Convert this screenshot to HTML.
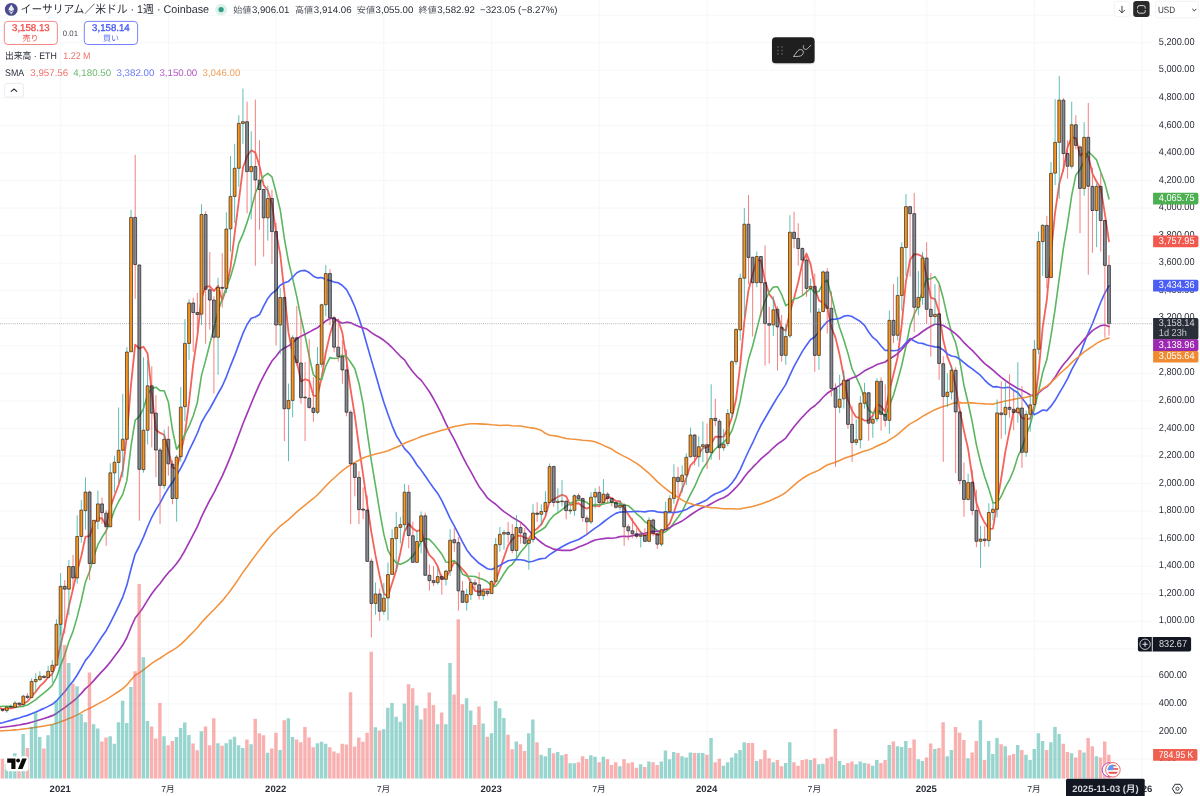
<!DOCTYPE html>
<html lang="ja"><head><meta charset="utf-8"><title>ETHUSD 1W</title>
<style>html,body{margin:0;padding:0;background:#fff;}body{width:1200px;height:796px;overflow:hidden;position:relative;font-family:'Liberation Sans','Noto Sans CJK JP',sans-serif;}svg text{font-family:'Liberation Sans','Noto Sans CJK JP',sans-serif;text-rendering:geometricPrecision;}svg{filter:blur(0.32px);}</style>
</head><body>
<svg width="1208" height="804" viewBox="-4 -4 1208 804" style="position:absolute;left:-4px;top:-4px;font-family:'Liberation Sans','Noto Sans CJK JP',sans-serif">
<rect x="-4" y="-4" width="1208" height="804" fill="#fff"/>
<path d="M-4 759.05H1152.7M-4 731.50H1152.7M-4 703.95H1152.7M-4 676.41H1152.7M-4 648.86H1152.7M-4 621.31H1152.7M-4 593.76H1152.7M-4 566.21H1152.7M-4 538.67H1152.7M-4 511.12H1152.7M-4 483.57H1152.7M-4 456.02H1152.7M-4 428.47H1152.7M-4 400.93H1152.7M-4 373.38H1152.7M-4 345.83H1152.7M-4 318.28H1152.7M-4 290.73H1152.7M-4 263.19H1152.7M-4 235.64H1152.7M-4 208.09H1152.7M-4 180.54H1152.7M-4 152.99H1152.7M-4 125.45H1152.7M-4 97.90H1152.7M-4 70.35H1152.7M-4 42.80H1152.7M-4 15.25H1152.7M60.60 -4V778.7M168.34 -4V778.7M276.08 -4V778.7M383.82 -4V778.7M491.57 -4V778.7M599.31 -4V778.7M707.05 -4V778.7M814.79 -4V778.7M926.68 -4V778.7M1034.42 -4V778.7M1142.16 -4V778.7" stroke="#f2f3f6" stroke-width="0.7" fill="none"/>
<path d="M-1.56 707.10L2.59 709.21L6.73 708.60L10.87 708.25L15.02 707.35L19.16 706.30L23.30 703.46L27.45 701.53L31.59 696.51L35.74 691.78L39.88 686.16L44.02 682.42L48.17 677.19L52.31 673.94L56.46 662.92L60.60 644.94L64.74 627.28L68.89 606.32L73.03 588.84L77.18 571.28L81.32 556.04L85.46 536.62L89.61 536.02L93.75 524.52L97.90 518.01L102.04 518.51L106.18 525.45L110.33 507.32L114.47 495.70L118.61 484.96L122.76 470.27L126.90 435.34L131.05 384.24L135.19 344.68L139.33 348.50L143.48 346.71L147.62 353.47L151.77 392.62L155.91 429.73L160.05 432.94L164.20 434.75L168.34 450.35L172.49 467.42L176.63 468.82L180.77 453.17L184.92 433.99L189.06 401.83L193.20 364.64L197.35 336.14L201.49 297.62L205.64 286.80L209.78 286.21L213.92 291.15L218.07 285.74L222.21 300.50L226.36 288.44L230.50 267.72L234.64 233.93L238.79 201.11L242.93 167.78L247.08 156.29L251.22 150.32L255.36 152.65L259.51 165.87L263.65 185.10L267.80 190.48L271.94 203.48L276.08 232.48L280.23 254.09L284.37 292.27L288.51 332.64L292.66 353.88L296.80 361.41L300.95 381.44L305.09 379.25L309.23 380.65L313.38 395.60L317.52 395.96L321.67 377.37L325.81 352.52L329.95 334.59L334.10 321.53L338.24 319.92L342.39 332.96L346.53 360.70L350.67 389.88L354.82 415.94L358.96 446.58L363.10 474.61L367.25 504.43L371.39 532.38L375.54 555.69L379.68 576.02L383.82 593.64L387.97 596.28L392.11 583.31L396.26 569.99L400.40 552.67L404.54 531.48L408.69 523.65L412.83 528.41L416.98 531.23L421.12 529.46L425.26 546.07L429.41 555.11L433.55 559.16L437.69 566.18L441.84 578.87L445.98 578.03L450.13 569.96L454.27 561.99L458.41 564.84L462.56 569.45L466.70 574.15L470.85 582.60L474.99 590.91L479.13 591.86L483.28 589.65L487.42 589.45L491.57 589.25L495.71 581.31L499.85 569.07L504.00 557.33L508.14 545.49L512.29 539.28L516.43 535.86L520.57 535.56L524.72 537.71L528.86 538.85L533.00 531.39L537.15 528.74L541.29 524.47L545.44 516.30L549.58 501.60L553.72 499.47L557.87 496.85L562.01 494.76L566.16 496.39L570.30 505.10L574.44 503.75L578.59 503.25L582.73 506.54L586.88 508.79L591.02 506.22L595.16 505.56L599.31 506.30L603.45 501.64L607.59 496.95L611.74 497.96L615.88 500.93L620.03 501.50L624.17 508.01L628.31 514.48L632.46 520.79L636.60 526.60L640.75 532.57L644.89 535.49L649.03 533.38L653.18 533.28L657.32 534.84L661.47 533.78L665.61 527.85L669.75 523.53L673.90 512.34L678.04 499.82L682.19 488.89L686.33 478.01L690.47 465.28L694.62 461.06L698.76 454.09L702.90 448.00L707.05 447.04L711.19 443.76L715.34 436.62L719.48 436.82L723.62 436.72L727.77 428.94L731.91 417.56L736.06 399.32L740.20 365.44L744.34 321.44L748.49 290.20L752.63 274.40L756.78 259.83L760.92 260.69L765.06 280.56L769.21 294.12L773.35 299.55L777.49 313.62L781.64 328.15L785.78 330.74L789.93 312.16L794.07 297.90L798.21 282.23L802.36 263.18L806.50 253.55L810.65 264.37L814.79 287.75L818.93 300.46L823.08 302.83L827.22 306.81L831.37 327.25L835.51 337.63L839.65 355.06L843.80 376.73L847.94 399.95L852.08 410.73L856.23 417.23L860.37 418.03L864.52 420.53L868.66 420.29L872.80 415.67L876.95 403.98L881.09 406.19L885.24 411.70L889.38 391.14L893.52 374.32L897.67 357.15L901.81 323.79L905.96 281.05L910.10 259.71L914.24 254.11L918.39 254.51L922.53 256.61L926.68 277.15L930.82 297.72L934.96 299.13L939.11 312.32L943.25 340.02L947.39 356.60L951.54 367.35L955.68 386.86L959.83 410.30L963.97 430.87L968.11 448.95L972.26 476.99L976.40 502.87L980.55 514.57L984.69 522.81L988.83 528.78L992.98 528.54L997.12 502.86L1001.27 477.97L1005.41 451.31L1009.55 430.67L1013.70 411.35L1017.84 410.38L1021.98 417.92L1026.13 419.33L1030.27 418.44L1034.42 405.80L1038.56 372.49L1042.70 327.11L1046.85 299.73L1050.99 253.42L1055.14 212.01L1059.28 183.73L1063.42 169.36L1067.57 147.13L1071.71 137.42L1075.86 138.02L1080.00 155.67L1084.14 152.43L1088.29 156.41L1092.43 173.56L1096.58 181.76L1100.72 188.19L1104.86 213.80L1109.01 241.28" stroke="#f5625a" stroke-width="1.8" fill="none" stroke-linejoin="round" stroke-linecap="round" opacity="1"/>
<path d="M-1.56 706.79L2.59 706.24L6.73 706.20L10.87 706.35L15.02 706.75L19.16 706.70L23.30 706.34L27.45 705.07L31.59 702.38L35.74 699.56L39.88 696.23L44.02 692.94L48.17 689.36L52.31 685.23L56.46 677.35L60.60 665.55L64.74 654.85L68.89 641.75L73.03 631.39L77.18 617.10L81.32 600.49L85.46 581.95L89.61 571.17L93.75 556.68L97.90 544.64L102.04 537.28L106.18 531.04L110.33 521.67L114.47 510.11L118.61 501.49L122.76 494.39L126.90 480.39L131.05 445.78L135.19 420.19L139.33 416.73L143.48 408.49L147.62 394.40L151.77 388.43L155.91 387.21L160.05 390.72L164.20 390.73L168.34 401.91L172.49 430.02L176.63 449.28L180.77 443.06L184.92 434.37L189.06 426.09L193.20 416.03L197.35 402.48L201.49 375.39L205.64 360.40L209.78 344.02L213.92 327.89L218.07 310.94L222.21 299.06L226.36 287.62L230.50 276.96L234.64 262.54L238.79 243.42L242.93 234.14L247.08 222.37L251.22 209.02L255.36 193.29L259.51 183.49L263.65 176.44L267.80 173.39L271.94 176.90L276.08 192.57L280.23 209.98L284.37 238.68L288.51 261.56L292.66 278.68L296.80 296.94L300.95 317.76L305.09 335.76L309.23 356.65L313.38 374.74L317.52 378.68L321.67 379.40L325.81 365.88L329.95 357.62L334.10 358.56L338.24 357.94L342.39 355.17L346.53 356.61L350.67 362.24L354.82 368.73L358.96 383.25L363.10 403.79L367.25 432.57L371.39 461.13L375.54 485.81L379.68 511.30L383.82 534.13L387.97 550.36L392.11 557.84L396.26 562.84L400.40 564.35L404.54 562.56L408.69 559.96L412.83 555.86L416.98 550.61L421.12 541.07L425.26 538.77L429.41 539.38L433.55 543.78L437.69 548.70L441.84 554.17L445.98 562.05L450.13 562.53L454.27 560.57L458.41 565.51L462.56 574.16L466.70 576.09L470.85 576.28L474.99 576.45L479.13 578.35L483.28 579.55L487.42 581.80L491.57 585.92L495.71 586.11L499.85 580.46L504.00 573.49L508.14 567.47L512.29 564.26L516.43 558.58L520.57 552.31L524.72 547.52L528.86 542.17L533.00 535.33L537.15 532.30L541.29 530.02L545.44 527.01L549.58 520.23L553.72 515.43L557.87 512.80L562.01 509.62L566.16 506.35L570.30 503.35L574.44 501.61L578.59 500.05L582.73 500.65L586.88 502.59L591.02 505.66L595.16 504.65L599.31 504.77L603.45 504.09L607.59 502.87L611.74 502.09L615.88 503.25L620.03 503.90L624.17 504.82L628.31 505.72L632.46 509.38L636.60 513.77L640.75 517.04L644.89 521.75L649.03 523.93L653.18 527.04L657.32 530.72L661.47 533.18L665.61 531.67L669.75 528.45L673.90 522.81L678.04 517.33L682.19 511.34L686.33 502.93L690.47 494.40L694.62 486.70L698.76 476.95L702.90 468.45L707.05 462.52L711.19 454.52L715.34 448.84L719.48 445.46L723.62 442.36L727.77 437.99L731.91 430.66L736.06 417.97L740.20 401.13L744.34 379.08L748.49 359.57L752.63 345.98L756.78 329.57L760.92 313.07L765.06 301.00L769.21 292.16L773.35 286.97L777.49 286.72L781.64 294.42L785.78 305.65L789.93 303.14L794.07 298.72L798.21 297.92L802.36 295.66L806.50 292.15L810.65 288.27L814.79 292.82L818.93 291.35L823.08 283.01L827.22 280.18L831.37 295.81L835.51 312.69L839.65 327.76L843.80 339.78L847.94 353.38L852.08 368.99L856.23 377.43L860.37 386.54L864.52 398.63L868.66 410.12L872.80 413.20L876.95 410.60L881.09 412.11L885.24 416.12L889.38 405.71L893.52 394.99L897.67 380.56L901.81 364.99L905.96 346.37L910.10 325.42L914.24 314.22L918.39 305.83L922.53 290.20L926.68 279.10L930.82 278.71L934.96 276.62L939.11 283.42L943.25 298.32L947.39 316.87L951.54 332.53L955.68 342.99L959.83 361.31L963.97 385.45L968.11 402.78L972.26 422.17L976.40 444.87L980.55 462.44L984.69 476.84L988.83 488.87L992.98 502.77L997.12 502.87L1001.27 496.27L1005.41 487.06L1009.55 479.73L1013.70 469.94L1017.84 456.62L1021.98 447.94L1026.13 435.32L1030.27 424.56L1034.42 408.57L1038.56 391.44L1042.70 372.51L1046.85 359.53L1050.99 335.93L1055.14 308.90L1059.28 278.11L1063.42 248.23L1067.57 223.43L1071.71 195.42L1075.86 175.02L1080.00 169.70L1084.14 160.89L1088.29 151.77L1092.43 155.49L1096.58 159.89L1100.72 171.93L1104.86 183.12L1109.01 198.84" stroke="#5cb660" stroke-width="1.6" fill="none" stroke-linejoin="round" stroke-linecap="round" opacity="1"/>
<path d="M-1.56 723.39L2.59 722.70L6.73 721.55L10.87 720.38L15.02 719.10L19.16 717.94L23.30 716.58L27.45 715.37L31.59 713.69L35.74 712.01L39.88 710.13L44.02 708.37L48.17 706.38L52.31 704.32L56.46 700.97L60.60 696.28L64.74 691.68L68.89 686.30L73.03 681.32L77.18 675.03L81.32 667.84L85.46 660.38L89.61 655.58L93.75 649.42L97.90 642.92L102.04 636.51L106.18 630.74L110.33 622.83L114.47 614.63L118.61 606.05L122.76 597.04L126.90 585.09L131.05 568.77L135.19 554.03L139.33 546.24L143.48 537.11L147.62 526.76L151.77 517.28L155.91 509.57L160.05 503.10L164.20 495.21L168.34 488.08L172.49 482.32L176.63 475.38L180.77 468.14L184.92 460.05L189.06 450.51L193.20 442.04L197.35 433.27L201.49 422.53L205.64 415.17L209.78 408.77L213.92 401.23L218.07 393.47L222.21 386.28L226.36 376.83L230.50 365.82L234.64 355.67L238.79 344.37L242.93 333.42L247.08 324.50L251.22 318.32L255.36 317.07L259.51 314.57L263.65 306.18L267.80 298.46L271.94 293.32L276.08 290.38L280.23 285.29L284.37 282.74L288.51 281.44L292.66 277.24L296.80 272.71L300.95 270.73L305.09 270.42L309.23 272.55L313.38 276.20L317.52 277.93L321.67 277.60L325.81 279.57L329.95 280.52L334.10 282.09L338.24 282.73L342.39 285.47L346.53 289.60L350.67 297.42L354.82 306.79L358.96 318.17L363.10 331.06L367.25 345.71L371.39 360.11L375.54 374.35L379.68 388.73L383.82 402.35L387.97 414.24L392.11 425.58L396.26 435.44L400.40 442.09L404.54 448.58L408.69 452.81L412.83 458.20L416.98 464.99L421.12 470.10L425.26 476.02L429.41 482.12L433.55 487.95L437.69 493.43L441.84 500.59L445.98 509.47L450.13 518.36L454.27 525.85L458.41 533.98L462.56 542.18L466.70 549.66L470.85 555.34L474.99 559.36L479.13 563.30L483.28 566.02L487.42 568.80L491.57 569.47L495.71 567.51L499.85 565.53L504.00 562.90L508.14 560.78L512.29 559.97L516.43 559.61L520.57 559.79L524.72 560.41L528.86 562.01L533.00 561.26L537.15 559.66L541.29 558.66L545.44 558.22L549.58 554.59L553.72 551.99L557.87 549.28L562.01 546.76L566.16 544.47L570.30 542.44L574.44 540.95L578.59 539.49L582.73 537.04L586.88 534.36L591.02 531.12L595.16 528.11L599.31 525.39L603.45 522.01L607.59 518.91L611.74 515.87L615.88 513.40L620.03 512.08L624.17 511.83L628.31 511.77L632.46 511.75L636.60 511.28L640.75 511.54L644.89 511.82L649.03 511.05L653.18 510.82L657.32 511.86L661.47 512.38L665.61 512.38L669.75 512.25L673.90 512.61L678.04 511.92L682.19 511.05L686.33 509.59L690.47 507.07L694.62 505.27L698.76 503.64L702.90 501.84L707.05 499.67L711.19 496.23L715.34 493.68L719.48 492.19L723.62 490.24L727.77 487.56L731.91 483.00L736.06 477.23L740.20 469.60L744.34 460.23L748.49 451.25L752.63 442.98L756.78 433.74L760.92 425.28L765.06 418.23L769.21 411.03L773.35 404.01L777.49 397.13L781.64 390.84L785.78 384.39L789.93 375.08L794.07 366.41L798.21 358.78L802.36 351.40L806.50 345.17L810.65 339.47L814.79 336.82L818.93 332.01L823.08 326.19L827.22 321.64L831.37 319.51L835.51 319.13L839.65 318.42L843.80 316.17L847.94 315.51L852.08 316.47L856.23 319.08L860.37 321.54L864.52 325.35L868.66 331.98L872.80 337.38L876.95 340.67L881.09 345.93L885.24 350.52L889.38 350.41L893.52 350.75L897.67 350.27L901.81 347.63L905.96 342.67L910.10 338.57L914.24 341.08L918.39 343.04L922.53 343.36L926.68 345.00L930.82 345.94L934.96 346.87L939.11 347.14L943.25 349.95L947.39 353.96L951.54 356.03L955.68 356.80L959.83 359.25L963.97 362.59L968.11 366.00L972.26 368.87L976.40 372.16L980.55 375.47L984.69 380.05L988.83 384.04L992.98 386.91L997.12 386.69L1001.27 387.80L1005.41 387.57L1009.55 387.20L1013.70 390.28L1017.84 392.70L1021.98 397.93L1026.13 403.49L1030.27 410.10L1034.42 414.62L1038.56 412.43L1042.70 410.03L1046.85 410.68L1050.99 406.15L1055.14 400.34L1059.28 393.20L1063.42 386.20L1067.57 378.53L1071.71 369.61L1075.86 362.12L1080.00 354.67L1084.14 343.23L1088.29 332.79L1092.43 323.72L1096.58 312.91L1100.72 302.22L1104.86 293.10L1109.01 285.86" stroke="#4c63fa" stroke-width="1.65" fill="none" stroke-linejoin="round" stroke-linecap="round" opacity="1"/>
<path d="M-1.56 727.76L2.59 727.28L6.73 726.75L10.87 726.21L15.02 725.62L19.16 725.04L23.30 724.17L27.45 723.36L31.59 722.23L35.74 721.04L39.88 719.75L44.02 718.49L48.17 717.12L52.31 715.65L56.46 713.42L60.60 710.43L64.74 707.56L68.89 704.34L73.03 701.44L77.18 697.75L81.32 693.38L85.46 688.60L89.61 685.04L93.75 680.61L97.90 675.86L102.04 671.33L106.18 667.12L110.33 661.90L114.47 656.52L118.61 650.93L122.76 645.05L126.90 637.49L131.05 627.22L135.19 617.97L139.33 612.85L143.48 606.92L147.62 600.09L151.77 593.80L155.91 588.26L160.05 583.46L164.20 577.73L168.34 572.69L172.49 568.51L176.63 563.55L180.77 557.71L184.92 550.48L189.06 542.54L193.20 534.59L197.35 526.72L201.49 516.85L205.64 508.45L209.78 500.24L213.92 492.84L218.07 484.46L222.21 476.17L226.36 466.66L230.50 456.67L234.64 446.08L238.79 434.92L242.93 423.77L247.08 413.68L251.22 403.46L255.36 393.63L259.51 384.12L263.65 375.99L267.80 368.23L271.94 361.08L276.08 356.25L280.23 350.64L284.37 348.09L288.51 345.89L292.66 342.80L296.80 338.79L300.95 336.33L305.09 334.21L309.23 332.10L313.38 329.82L317.52 327.65L321.67 324.50L325.81 320.96L329.95 318.54L334.10 318.44L338.24 321.22L342.39 323.33L346.53 322.18L350.67 322.85L354.82 324.69L358.96 326.61L363.10 327.82L367.25 329.33L371.39 332.62L375.54 335.22L379.68 337.47L383.82 340.30L387.97 343.65L392.11 347.55L396.26 352.04L400.40 356.28L404.54 359.83L408.69 366.25L412.83 371.71L416.98 376.54L421.12 380.11L425.26 385.86L429.41 391.71L433.55 398.78L437.69 406.38L441.84 414.60L445.98 423.56L450.13 431.93L454.27 439.35L458.41 447.84L462.56 456.28L466.70 464.38L470.85 471.68L474.99 479.39L479.13 486.67L483.28 492.00L487.42 497.92L491.57 501.37L495.71 504.26L499.85 508.19L504.00 511.59L508.14 514.32L512.29 517.38L516.43 519.78L520.57 522.19L524.72 525.77L528.86 530.47L533.00 535.26L537.15 539.19L541.29 542.48L545.44 545.40L549.58 547.34L553.72 549.14L557.87 549.89L562.01 550.36L566.16 550.38L570.30 550.38L574.44 549.07L578.59 546.98L582.73 545.45L586.88 543.66L591.02 541.64L595.16 540.00L599.31 539.28L603.45 538.62L607.59 538.09L611.74 538.29L615.88 537.73L620.03 536.59L624.17 536.29L628.31 536.59L632.46 535.76L636.60 534.88L640.75 533.93L644.89 533.22L649.03 532.04L653.18 531.29L657.32 531.37L661.47 531.11L665.61 529.52L669.75 527.45L673.90 525.11L678.04 523.09L682.19 520.91L686.33 518.14L690.47 515.01L694.62 512.27L698.76 509.57L702.90 507.57L707.05 505.94L711.19 503.66L715.34 501.38L719.48 499.33L723.62 497.66L727.77 495.28L731.91 491.64L736.06 487.43L740.20 482.73L744.34 476.93L748.49 471.85L752.63 467.45L756.78 463.25L760.92 458.86L765.06 455.30L769.21 451.78L773.35 447.77L777.49 444.10L781.64 441.30L785.78 438.05L789.93 432.35L794.07 426.68L798.21 421.70L802.36 417.06L806.50 412.78L810.65 408.62L814.79 405.76L818.93 401.95L823.08 397.25L827.22 393.31L831.37 390.54L835.51 388.07L839.65 385.38L843.80 382.26L847.94 380.05L852.08 378.07L856.23 376.46L860.37 373.86L864.52 370.83L868.66 368.70L872.80 366.85L876.95 364.50L881.09 363.24L885.24 362.02L889.38 358.92L893.52 356.48L897.67 353.69L901.81 349.51L905.96 344.71L910.10 340.09L914.24 337.19L918.39 334.76L922.53 331.51L926.68 328.74L930.82 326.19L934.96 324.21L939.11 324.24L943.25 325.58L947.39 327.86L951.54 330.78L955.68 333.87L959.83 337.83L963.97 342.69L968.11 346.69L972.26 350.43L976.40 354.75L980.55 359.33L984.69 363.61L988.83 366.75L992.98 370.21L997.12 373.82L1001.27 377.34L1005.41 380.52L1009.55 383.50L1013.70 385.98L1017.84 388.42L1021.98 390.36L1026.13 392.40L1030.27 395.06L1034.42 395.88L1038.56 392.94L1042.70 389.31L1046.85 386.87L1050.99 382.73L1055.14 377.09L1059.28 370.24L1063.42 364.52L1067.57 359.78L1071.71 354.42L1075.86 348.86L1080.00 344.24L1084.14 339.36L1088.29 334.80L1092.43 330.60L1096.58 327.92L1100.72 325.63L1104.86 325.03L1109.01 326.55" stroke="#a238b6" stroke-width="1.65" fill="none" stroke-linejoin="round" stroke-linecap="round" opacity="1"/>
<path d="M-1.56 730.99L2.59 730.78L6.73 730.56L10.87 730.28L15.02 729.88L19.16 729.50L23.30 729.00L27.45 728.51L31.59 727.92L35.74 727.31L39.88 726.70L44.02 726.05L48.17 725.34L52.31 724.56L56.46 723.36L60.60 721.80L64.74 720.29L68.89 718.55L73.03 716.92L77.18 714.89L81.32 712.59L85.46 710.12L89.61 708.36L93.75 706.21L97.90 703.90L102.04 701.67L106.18 699.57L110.33 696.93L114.47 694.22L118.61 691.50L122.76 688.65L126.90 684.95L131.05 679.86L135.19 675.28L139.33 672.81L143.48 669.93L147.62 666.62L151.77 663.47L155.91 660.70L160.05 658.25L164.20 655.37L168.34 652.71L172.49 650.38L176.63 647.62L180.77 644.34L184.92 640.43L189.06 636.14L193.20 631.97L197.35 627.76L201.49 622.55L205.64 618.10L209.78 613.76L213.92 609.80L218.07 605.34L222.21 600.89L226.36 595.85L230.50 590.42L234.64 584.72L238.79 578.58L242.93 572.40L247.08 566.71L251.22 560.98L255.36 555.37L259.51 549.88L263.65 544.70L267.80 539.33L271.94 534.32L276.08 530.29L280.23 526.04L284.37 522.92L288.51 519.63L292.66 515.70L296.80 511.91L300.95 508.47L305.09 505.03L309.23 501.72L313.38 498.47L317.52 494.78L321.67 490.51L325.81 485.95L329.95 481.79L334.10 477.96L338.24 474.22L342.39 470.65L346.53 467.52L350.67 464.89L354.82 462.39L358.96 460.21L363.10 458.04L367.25 456.40L371.39 455.17L375.54 453.95L379.68 452.99L383.82 451.92L387.97 450.68L392.11 449.01L396.26 447.29L400.40 445.43L404.54 443.27L408.69 441.55L412.83 440.08L416.98 438.39L421.12 436.48L425.26 435.16L429.41 433.94L433.55 432.72L437.69 431.53L441.84 430.34L445.98 429.24L450.13 427.85L454.27 426.51L458.41 425.65L462.56 424.96L466.70 424.25L470.85 423.83L474.99 423.81L479.13 423.88L483.28 424.12L487.42 424.28L491.57 424.73L495.71 425.07L499.85 425.50L504.00 425.19L508.14 425.33L512.29 425.79L516.43 425.94L520.57 426.00L524.72 426.71L528.86 427.49L533.00 428.11L537.15 428.87L541.29 430.46L545.44 433.31L549.58 435.33L553.72 435.66L557.87 436.37L562.01 437.53L566.16 438.50L570.30 439.10L574.44 439.20L578.59 439.80L582.73 440.33L586.88 440.57L591.02 440.97L595.16 441.82L599.31 443.41L603.45 445.33L607.59 447.18L611.74 449.06L615.88 451.99L620.03 454.15L624.17 456.42L628.31 458.35L632.46 460.81L636.60 463.29L640.75 466.35L644.89 469.80L649.03 473.32L653.18 477.42L657.32 481.65L661.47 485.23L665.61 488.68L669.75 491.87L673.90 494.75L678.04 497.38L682.19 500.15L686.33 502.41L690.47 503.51L694.62 505.09L698.76 505.47L702.90 505.92L707.05 507.06L711.19 507.62L715.34 507.85L719.48 508.35L723.62 508.72L727.77 508.73L731.91 508.70L736.06 508.95L740.20 509.00L744.34 508.06L748.49 507.17L752.63 506.43L756.78 505.29L760.92 504.00L765.06 502.60L769.21 501.07L773.35 499.08L777.49 497.24L781.64 495.18L785.78 492.52L789.93 488.90L794.07 485.17L798.21 481.67L802.36 478.53L806.50 476.03L810.65 473.62L814.79 471.92L818.93 470.12L823.08 467.49L827.22 464.95L831.37 463.42L835.51 462.33L839.65 460.57L843.80 458.57L847.94 456.99L852.08 455.65L856.23 454.25L860.37 452.57L864.52 451.10L868.66 449.90L872.80 448.19L876.95 445.98L881.09 444.17L885.24 442.55L889.38 439.91L893.52 437.31L897.67 434.35L901.81 430.89L905.96 427.14L910.10 423.83L914.24 421.56L918.39 419.21L922.53 416.45L926.68 414.04L930.82 411.93L934.96 409.74L939.11 407.94L943.25 406.51L947.39 405.30L951.54 403.86L955.68 402.86L959.83 402.64L963.97 402.97L968.11 402.77L972.26 402.86L976.40 403.27L980.55 403.55L984.69 403.86L988.83 404.02L992.98 404.13L997.12 403.08L1001.27 402.01L1005.41 401.11L1009.55 400.28L1013.70 399.38L1017.84 398.52L1021.98 398.06L1026.13 397.18L1030.27 396.15L1034.42 394.60L1038.56 391.74L1042.70 388.69L1046.85 386.13L1050.99 382.49L1055.14 378.57L1059.28 374.16L1063.42 370.49L1067.57 366.82L1071.71 362.62L1075.86 358.78L1080.00 355.55L1084.14 351.93L1088.29 349.02L1092.43 346.31L1096.58 343.42L1100.72 341.06L1104.86 339.36L1109.01 338.03" stroke="#f2923c" stroke-width="1.55" fill="none" stroke-linejoin="round" stroke-linecap="round" opacity="1"/>
<path d="M4.85 764.06h3.45V778.7h-3.45zM9.00 770.84h3.45V778.7h-3.45zM13.14 753.32h3.45V778.7h-3.45zM21.43 734.10h3.45V778.7h-3.45zM29.72 726.75h3.45V778.7h-3.45zM33.86 712.05h3.45V778.7h-3.45zM38.01 736.92h3.45V778.7h-3.45zM46.29 735.23h3.45V778.7h-3.45zM50.44 724.82h3.45V778.7h-3.45zM54.58 700.74h3.45V778.7h-3.45zM58.73 615.00h3.45V778.7h-3.45zM67.01 662.96h3.45V778.7h-3.45zM75.30 686.28h3.45V778.7h-3.45zM79.44 713.97h3.45V778.7h-3.45zM83.59 722.22h3.45V778.7h-3.45zM91.88 724.15h3.45V778.7h-3.45zM96.02 728.44h3.45V778.7h-3.45zM108.45 736.13h3.45V778.7h-3.45zM112.60 743.71h3.45V778.7h-3.45zM116.74 722.22h3.45V778.7h-3.45zM120.88 700.74h3.45V778.7h-3.45zM125.03 723.02h3.45V778.7h-3.45zM129.17 687.09h3.45V778.7h-3.45zM141.60 657.14h3.45V778.7h-3.45zM145.75 721.09h3.45V778.7h-3.45zM162.32 736.13h3.45V778.7h-3.45zM174.75 736.92h3.45V778.7h-3.45zM178.90 727.88h3.45V778.7h-3.45zM183.04 722.45h3.45V778.7h-3.45zM187.19 734.89h3.45V778.7h-3.45zM199.62 731.27h3.45V778.7h-3.45zM216.19 743.14h3.45V778.7h-3.45zM224.48 743.14h3.45V778.7h-3.45zM228.62 739.52h3.45V778.7h-3.45zM232.77 736.70h3.45V778.7h-3.45zM236.91 745.18h3.45V778.7h-3.45zM241.06 748.00h3.45V778.7h-3.45zM249.34 744.27h3.45V778.7h-3.45zM265.92 752.75h3.45V778.7h-3.45zM278.35 749.92h3.45V778.7h-3.45zM286.64 718.27h3.45V778.7h-3.45zM290.78 736.92h3.45V778.7h-3.45zM315.65 743.14h3.45V778.7h-3.45zM319.79 741.67h3.45V778.7h-3.45zM323.93 743.71h3.45V778.7h-3.45zM373.66 727.31h3.45V778.7h-3.45zM381.95 729.23h3.45V778.7h-3.45zM386.09 707.86h3.45V778.7h-3.45zM390.24 703.00h3.45V778.7h-3.45zM394.38 716.80h3.45V778.7h-3.45zM398.52 721.66h3.45V778.7h-3.45zM402.67 703.57h3.45V778.7h-3.45zM415.10 705.60h3.45V778.7h-3.45zM419.24 719.40h3.45V778.7h-3.45zM435.82 724.15h3.45V778.7h-3.45zM444.11 724.15h3.45V778.7h-3.45zM448.25 662.91h3.45V778.7h-3.45zM464.83 698.14h3.45V778.7h-3.45zM468.97 710.58h3.45V778.7h-3.45zM481.40 723.58h3.45V778.7h-3.45zM489.69 733.19h3.45V778.7h-3.45zM493.83 700.97h3.45V778.7h-3.45zM497.98 708.32h3.45V778.7h-3.45zM502.12 718.04h3.45V778.7h-3.45zM514.55 741.44h3.45V778.7h-3.45zM526.99 733.19h3.45V778.7h-3.45zM531.13 719.40h3.45V778.7h-3.45zM539.42 754.67h3.45V778.7h-3.45zM543.56 756.14h3.45V778.7h-3.45zM547.71 747.89h3.45V778.7h-3.45zM555.99 751.96h3.45V778.7h-3.45zM560.14 755.35h3.45V778.7h-3.45zM568.42 763.15h3.45V778.7h-3.45zM572.57 763.15h3.45V778.7h-3.45zM589.14 755.35h3.45V778.7h-3.45zM593.29 756.71h3.45V778.7h-3.45zM601.58 756.71h3.45V778.7h-3.45zM618.15 766.32h3.45V778.7h-3.45zM638.87 764.28h3.45V778.7h-3.45zM647.16 761.46h3.45V778.7h-3.45zM659.59 761.46h3.45V778.7h-3.45zM663.73 750.49h3.45V778.7h-3.45zM667.88 759.31h3.45V778.7h-3.45zM672.02 751.96h3.45V778.7h-3.45zM680.31 756.14h3.45V778.7h-3.45zM684.45 757.50h3.45V778.7h-3.45zM688.60 752.41h3.45V778.7h-3.45zM696.89 753.09h3.45V778.7h-3.45zM701.03 753.09h3.45V778.7h-3.45zM709.32 738.05h3.45V778.7h-3.45zM721.75 765.75h3.45V778.7h-3.45zM725.89 762.14h3.45V778.7h-3.45zM730.04 757.50h3.45V778.7h-3.45zM734.18 753.32h3.45V778.7h-3.45zM738.32 749.92h3.45V778.7h-3.45zM742.47 742.24h3.45V778.7h-3.45zM754.90 761.01h3.45V778.7h-3.45zM771.48 762.14h3.45V778.7h-3.45zM783.91 762.93h3.45V778.7h-3.45zM788.05 742.24h3.45V778.7h-3.45zM808.77 760.10h3.45V778.7h-3.45zM817.06 764.28h3.45V778.7h-3.45zM821.20 763.72h3.45V778.7h-3.45zM837.78 761.01h3.45V778.7h-3.45zM841.92 764.96h3.45V778.7h-3.45zM854.35 764.28h3.45V778.7h-3.45zM858.50 761.46h3.45V778.7h-3.45zM862.64 762.93h3.45V778.7h-3.45zM870.93 765.75h3.45V778.7h-3.45zM875.07 760.10h3.45V778.7h-3.45zM887.51 745.06h3.45V778.7h-3.45zM895.79 746.19h3.45V778.7h-3.45zM899.94 747.10h3.45V778.7h-3.45zM904.08 740.88h3.45V778.7h-3.45zM916.51 759.31h3.45V778.7h-3.45zM920.66 761.01h3.45V778.7h-3.45zM933.09 749.02h3.45V778.7h-3.45zM945.52 756.14h3.45V778.7h-3.45zM949.66 749.92h3.45V778.7h-3.45zM966.24 758.18h3.45V778.7h-3.45zM978.67 720.19h3.45V778.7h-3.45zM986.96 740.88h3.45V778.7h-3.45zM991.10 754.11h3.45V778.7h-3.45zM995.25 738.05h3.45V778.7h-3.45zM1003.53 746.19h3.45V778.7h-3.45zM1015.97 745.06h3.45V778.7h-3.45zM1024.25 754.67h3.45V778.7h-3.45zM1028.40 760.10h3.45V778.7h-3.45zM1032.54 749.02h3.45V778.7h-3.45zM1036.69 733.19h3.45V778.7h-3.45zM1040.83 741.11h3.45V778.7h-3.45zM1049.12 742.24h3.45V778.7h-3.45zM1053.26 727.09h3.45V778.7h-3.45zM1057.40 734.10h3.45V778.7h-3.45zM1069.84 753.32h3.45V778.7h-3.45zM1082.27 752.53h3.45V778.7h-3.45zM1094.70 756.14h3.45V778.7h-3.45z" fill="#26a69a" fill-opacity="0.47"/>
<path d="M0.71 758.74h3.45V778.7h-3.45zM17.29 756.71h3.45V778.7h-3.45zM25.57 747.89h3.45V778.7h-3.45zM42.15 748.45h3.45V778.7h-3.45zM62.87 645.08h3.45V778.7h-3.45zM71.16 683.77h3.45V778.7h-3.45zM87.73 672.41h3.45V778.7h-3.45zM100.16 741.44h3.45V778.7h-3.45zM104.31 737.49h3.45V778.7h-3.45zM133.32 671.21h3.45V778.7h-3.45zM137.46 583.90h3.45V778.7h-3.45zM149.89 726.41h3.45V778.7h-3.45zM154.03 738.39h3.45V778.7h-3.45zM158.18 703.00h3.45V778.7h-3.45zM166.47 745.18h3.45V778.7h-3.45zM170.61 741.11h3.45V778.7h-3.45zM191.33 743.48h3.45V778.7h-3.45zM195.47 750.15h3.45V778.7h-3.45zM203.76 726.41h3.45V778.7h-3.45zM207.91 745.18h3.45V778.7h-3.45zM212.05 718.27h3.45V778.7h-3.45zM220.34 745.74h3.45V778.7h-3.45zM245.20 739.52h3.45V778.7h-3.45zM253.49 718.83h3.45V778.7h-3.45zM257.63 733.19h3.45V778.7h-3.45zM261.78 735.23h3.45V778.7h-3.45zM270.06 748.57h3.45V778.7h-3.45zM274.21 732.63h3.45V778.7h-3.45zM282.50 720.30h3.45V778.7h-3.45zM294.93 739.52h3.45V778.7h-3.45zM299.07 742.24h3.45V778.7h-3.45zM303.22 727.09h3.45V778.7h-3.45zM307.36 737.49h3.45V778.7h-3.45zM311.50 747.32h3.45V778.7h-3.45zM328.08 747.32h3.45V778.7h-3.45zM332.22 751.39h3.45V778.7h-3.45zM336.37 753.32h3.45V778.7h-3.45zM340.51 743.71h3.45V778.7h-3.45zM344.65 744.50h3.45V778.7h-3.45zM348.80 692.26h3.45V778.7h-3.45zM352.94 746.53h3.45V778.7h-3.45zM357.09 737.49h3.45V778.7h-3.45zM361.23 741.67h3.45V778.7h-3.45zM365.37 732.74h3.45V778.7h-3.45zM369.52 651.83h3.45V778.7h-3.45zM377.81 730.48h3.45V778.7h-3.45zM406.81 684.28h3.45V778.7h-3.45zM410.96 688.35h3.45V778.7h-3.45zM423.39 708.32h3.45V778.7h-3.45zM427.53 692.49h3.45V778.7h-3.45zM431.68 705.04h3.45V778.7h-3.45zM439.96 712.61h3.45V778.7h-3.45zM452.40 694.52h3.45V778.7h-3.45zM456.54 619.27h3.45V778.7h-3.45zM460.68 704.36h3.45V778.7h-3.45zM473.12 725.05h3.45V778.7h-3.45zM477.26 706.39h3.45V778.7h-3.45zM485.55 736.70h3.45V778.7h-3.45zM506.27 734.66h3.45V778.7h-3.45zM510.41 749.13h3.45V778.7h-3.45zM518.70 744.27h3.45V778.7h-3.45zM522.84 751.06h3.45V778.7h-3.45zM535.27 742.24h3.45V778.7h-3.45zM551.85 753.32h3.45V778.7h-3.45zM564.28 754.11h3.45V778.7h-3.45zM576.71 762.14h3.45V778.7h-3.45zM580.86 756.14h3.45V778.7h-3.45zM585.00 758.97h3.45V778.7h-3.45zM597.43 762.14h3.45V778.7h-3.45zM605.72 759.31h3.45V778.7h-3.45zM609.86 764.96h3.45V778.7h-3.45zM614.01 762.14h3.45V778.7h-3.45zM622.30 759.31h3.45V778.7h-3.45zM626.44 763.15h3.45V778.7h-3.45zM630.58 762.14h3.45V778.7h-3.45zM634.73 767.79h3.45V778.7h-3.45zM643.01 767.11h3.45V778.7h-3.45zM651.30 762.14h3.45V778.7h-3.45zM655.45 764.96h3.45V778.7h-3.45zM676.17 753.09h3.45V778.7h-3.45zM692.74 753.09h3.45V778.7h-3.45zM705.17 754.67h3.45V778.7h-3.45zM713.46 762.14h3.45V778.7h-3.45zM717.61 758.74h3.45V778.7h-3.45zM746.61 742.91h3.45V778.7h-3.45zM750.76 742.91h3.45V778.7h-3.45zM759.04 759.31h3.45V778.7h-3.45zM763.19 749.92h3.45V778.7h-3.45zM767.33 758.18h3.45V778.7h-3.45zM775.62 760.10h3.45V778.7h-3.45zM779.76 766.32h3.45V778.7h-3.45zM792.20 762.14h3.45V778.7h-3.45zM796.34 765.75h3.45V778.7h-3.45zM800.48 760.10h3.45V778.7h-3.45zM804.63 759.31h3.45V778.7h-3.45zM812.91 758.18h3.45V778.7h-3.45zM825.35 758.18h3.45V778.7h-3.45zM829.49 756.71h3.45V778.7h-3.45zM833.63 729.01h3.45V778.7h-3.45zM846.07 762.93h3.45V778.7h-3.45zM850.21 761.46h3.45V778.7h-3.45zM866.79 763.72h3.45V778.7h-3.45zM879.22 762.93h3.45V778.7h-3.45zM883.36 760.10h3.45V778.7h-3.45zM891.65 741.44h3.45V778.7h-3.45zM908.22 747.89h3.45V778.7h-3.45zM912.37 739.41h3.45V778.7h-3.45zM924.80 757.50h3.45V778.7h-3.45zM928.94 743.48h3.45V778.7h-3.45zM937.23 747.89h3.45V778.7h-3.45zM941.38 722.22h3.45V778.7h-3.45zM953.81 727.09h3.45V778.7h-3.45zM957.95 732.63h3.45V778.7h-3.45zM962.10 740.09h3.45V778.7h-3.45zM970.38 752.53h3.45V778.7h-3.45zM974.53 740.88h3.45V778.7h-3.45zM982.81 760.10h3.45V778.7h-3.45zM999.39 744.27h3.45V778.7h-3.45zM1007.68 755.35h3.45V778.7h-3.45zM1011.82 754.11h3.45V778.7h-3.45zM1020.11 749.92h3.45V778.7h-3.45zM1044.97 749.92h3.45V778.7h-3.45zM1061.55 743.71h3.45V778.7h-3.45zM1065.69 751.96h3.45V778.7h-3.45zM1073.98 757.50h3.45V778.7h-3.45zM1078.12 749.92h3.45V778.7h-3.45zM1086.41 738.05h3.45V778.7h-3.45zM1090.56 746.19h3.45V778.7h-3.45zM1098.84 757.50h3.45V778.7h-3.45zM1102.99 741.44h3.45V778.7h-3.45zM1107.13 754.67h3.45V778.7h-3.45z" fill="#ef5350" fill-opacity="0.45"/>
<path d="M6.73 706.58V707.11M6.73 710.65V712.76M10.87 704.47V706.58M10.87 707.11V708.24M15.02 701.08V703.12M15.02 707.34V707.64M23.30 694.82V696.18M23.30 704.47V707.11M31.59 678.47V681.48M31.59 697.46V697.69M35.74 673.19V679.45M35.74 681.63V691.66M39.88 671.31V676.21M39.88 679.60V681.11M48.17 665.65V671.31M48.17 677.49V678.47M52.31 660.10V665.28M52.31 671.46V682.61M56.46 619.30V624.32M56.46 665.13V665.28M60.60 573.07V586.33M60.60 624.32V635.38M68.89 560.00V566.53M68.89 589.15V615.28M77.18 515.18V536.48M77.18 577.89V583.62M81.32 500.10V510.15M81.32 536.48V542.81M85.46 477.39V492.06M85.46 510.65V529.75M93.75 519.70V520.40M93.75 563.52V564.02M97.90 490.55V503.92M97.90 521.21V529.25M110.33 463.30V472.86M110.33 526.73V527.24M114.47 455.78V462.31M114.47 472.86V492.56M118.61 407.54V450.25M118.61 462.51V482.51M122.76 393.90V439.20M122.76 450.25V477.39M126.90 347.24V352.06M126.90 439.20V439.70M131.05 209.85V217.39M131.05 351.76V352.06M143.48 357.29V430.25M143.48 469.65V472.66M147.62 360.30V385.83M147.62 430.25V444.32M164.20 429.75V439.30M164.20 485.43V488.74M176.63 454.87V457.09M176.63 498.49V521.61M180.77 387.04V407.14M180.77 456.58V461.61M184.92 319.10V343.42M184.92 406.63V421.21M189.06 299.40V303.02M189.06 343.42V359.80M201.49 204.27V214.52M201.49 314.12V325.18M218.07 277.79V287.54M218.07 337.24V374.87M226.36 212.31V229.05M226.36 288.34V293.02M230.50 156.03V196.43M230.50 228.84V251.66M234.64 143.82V168.29M234.64 196.43V222.86M238.79 115.18V123.42M238.79 168.29V186.68M242.93 88.54V121.71M242.93 123.42V143.82M251.22 131.26V166.58M251.22 171.61V219.35M267.80 185.68V198.54M267.80 217.84V240.60M280.23 287.84V297.54M280.23 324.97V354.32M288.51 383.62V400.40M288.51 408.74V461.16M292.66 335.23V337.74M292.66 400.40V417.29M317.52 347.14V364.42M317.52 412.26V414.27M321.67 303.72V304.72M321.67 364.22V367.24M325.81 265.03V273.57M325.81 304.72V316.28M375.54 582.61V593.97M375.54 603.42V614.77M383.82 583.12V598.19M383.82 611.26V614.77M387.97 562.51V574.57M387.97 597.99V620.30M392.11 529.20V538.54M392.11 574.37V575.08M396.26 512.11V527.39M396.26 538.54V571.56M400.40 517.14V524.67M400.40 527.39V543.27M404.54 483.97V492.21M404.54 524.67V530.20M416.98 531.21V541.46M416.98 562.36V562.86M421.12 511.61V515.83M421.12 541.46V553.32M437.69 568.04V576.58M437.69 582.61V584.62M445.98 570.05V571.06M445.98 579.30V585.63M450.13 529.20V540.25M450.13 570.85V576.08M466.70 588.84V594.57M466.70 602.31V610.65M470.85 578.29V582.51M470.85 594.57V600.10M483.28 588.34V591.26M483.28 595.58V600.10M491.57 580.30V581.51M491.57 593.57V593.87M495.71 538.09V544.62M495.71 581.31V581.81M499.85 527.04V534.37M499.85 544.62V551.66M504.00 530.05V532.56M504.00 534.07V549.65M516.43 514.97V527.54M516.43 550.45V557.69M528.86 539.10V540.10M528.86 543.32V569.75M533.00 504.27V513.12M533.00 539.60V542.61M541.29 504.27V511.51M541.29 514.32V525.38M545.44 491.21V502.46M545.44 511.51V514.32M549.58 463.57V466.58M549.58 502.46V503.27M557.87 488.19V501.26M557.87 502.46V511.81M562.01 480.15V501.06M562.01 501.66V506.28M570.30 506.28V510.10M570.30 510.90V514.32M574.44 494.22V495.73M574.44 510.30V515.83M591.02 492.21V497.24M591.02 521.86V523.87M595.16 488.19V492.41M595.16 497.04V508.29M603.45 479.15V494.22M603.45 502.46V503.27M620.03 500.25V505.28M620.03 507.29V510.30M640.75 531.31V535.13M640.75 536.33V547.39M649.03 517.24V520.25M649.03 541.36V542.36M661.47 528.79V529.80M661.47 544.17V546.38M665.61 501.66V511.71M665.61 529.30V529.80M669.75 495.13V498.64M669.75 511.41V513.22M673.90 464.32V477.39M673.90 498.44V503.67M682.19 465.33V475.18M682.19 481.56V492.61M686.33 453.27V457.29M686.33 474.87V485.08M690.47 427.64V434.97M690.47 456.78V457.29M698.76 436.18V446.73M698.76 456.78V466.83M702.90 421.61V444.72M702.90 446.43V462.31M711.19 384.27V418.59M711.19 452.46V459.80M723.62 429.15V444.22M723.62 447.74V450.75M727.77 409.05V413.57M727.77 443.42V446.23M731.91 360.15V361.66M731.91 413.07V417.59M736.06 328.39V329.40M736.06 361.66V364.67M740.20 273.62V278.34M740.20 329.90V340.55M744.34 208.14V224.22M744.34 278.14V316.83M756.78 251.51V256.53M756.78 282.66V287.19M773.35 296.23V309.80M773.35 324.87V336.03M785.78 324.37V336.53M785.78 355.33V364.67M789.93 215.18V232.26M789.93 335.83V338.04M810.65 278.64V286.38M810.65 288.39V312.81M818.93 308.29V312.11M818.93 355.38V369.75M823.08 270.60V271.91M823.08 311.51V312.31M839.65 374.77V399.25M839.65 407.29V413.12M843.80 370.25V380.30M843.80 398.84V408.59M856.23 419.15V439.75M856.23 442.46V445.28M860.37 396.03V403.27M860.37 439.75V448.29M864.52 382.81V392.81M864.52 403.27V408.59M872.80 416.13V419.35M872.80 423.17V437.74M876.95 378.29V381.31M876.95 418.94V421.66M889.38 310.80V320.35M889.38 420.35V433.72M897.67 276.63V295.43M897.67 335.28V340.60M901.81 242.31V247.54M901.81 295.43V310.80M905.96 194.07V206.63M905.96 247.54V276.13M918.39 271.11V297.44M918.39 307.29V315.33M922.53 251.86V258.04M922.53 297.44V304.77M934.96 284.17V314.32M934.96 316.53V325.03M947.39 373.27V392.21M947.39 396.53V407.09M951.54 365.73V370.25M951.54 392.01V399.55M968.11 473.57V482.61M968.11 499.40V500.70M980.55 526.03V539.10M980.55 541.31V567.74M988.83 503.22V512.46M988.83 540.60V546.63M992.98 502.21V509.25M992.98 512.46V520.30M997.12 399.55V412.91M997.12 509.25V517.29M1005.41 382.31V407.29M1005.41 414.62V434.72M1017.84 362.21V408.09M1017.84 412.61V422.66M1026.13 410.60V414.32M1026.13 452.31V456.83M1030.27 395.53V404.87M1030.27 414.32V431.71M1034.42 340.15V349.40M1034.42 404.57V405.08M1038.56 231.51V241.56M1038.56 349.20V354.22M1042.70 224.17V225.38M1042.70 241.56V275.73M1050.99 162.06V173.32M1050.99 277.44V278.04M1055.14 99.15V142.36M1055.14 173.12V185.18M1059.28 76.03V100.15M1059.28 142.36V198.74M1071.71 101.66V124.77M1071.71 166.28V168.59M1084.14 122.26V137.34M1084.14 188.39V195.73M1096.58 183.67V186.38M1096.58 210.50V247.09" stroke="#26a69a" stroke-opacity="0.8" stroke-width="0.92" fill="none"/>
<path d="M2.59 708.24V709.37M2.59 710.35V712.01M19.16 702.21V703.12M19.16 704.32V706.73M27.45 693.17V696.18M27.45 697.46V699.20M44.02 675.45V676.21M44.02 677.49V678.47M64.74 580.10V586.33M64.74 589.15V633.87M73.03 554.87V566.53M73.03 577.89V590.15M89.61 490.55V492.06M89.61 563.52V580.10M102.04 497.59V503.92M102.04 512.66V523.72M106.18 510.15V513.17M106.18 526.73V545.83M135.19 154.87V217.39M135.19 264.52V298.89M139.33 264.22V265.03M139.33 469.35V520.70M151.77 366.33V385.83M151.77 413.17V447.34M155.91 395.08V413.17M155.91 450.05V477.19M160.05 447.84V450.05M160.05 485.43V524.12M168.34 426.23V439.30M168.34 463.82V475.68M172.49 460.30V464.12M172.49 498.49V504.32M193.20 297.89V303.02M193.20 312.56V351.76M197.35 292.86V312.56M197.35 314.57V330.15M205.64 211.31V214.52M205.64 289.35V343.77M209.78 252.16V289.85M209.78 300.05V329.70M213.92 296.38V300.05M213.92 337.24V393.57M222.21 253.17V287.34M222.21 288.34V307.59M247.08 101.61V121.71M247.08 171.61V213.32M255.36 99.60V166.58M255.36 179.95V265.73M259.51 140.30V180.15M259.51 189.50V229.85M263.65 188.69V189.50M263.65 217.84V256.68M271.94 189.70V198.54M271.94 231.56V264.22M276.08 223.02V231.56M276.08 324.97V345.28M284.37 296.38V297.54M284.37 408.74V441.06M296.80 306.08V337.74M296.80 362.61V366.03M300.95 318.64V363.02M300.95 397.69V403.72M305.09 362.01V397.19M305.09 397.79V441.06M309.23 339.25V398.19M309.23 407.44V408.74M313.38 377.09V408.04M313.38 412.46V421.81M329.95 269.05V273.57M329.95 317.79V325.33M334.10 315.78V317.79M334.10 347.14V352.16M338.24 318.79V347.14M338.24 356.38V361.71M342.39 340.10V356.68M342.39 369.95V383.82M346.53 349.65V369.95M346.53 412.26V416.28M350.67 410.25V412.26M350.67 463.67V524.17M354.82 463.17V463.67M354.82 477.44V496.33M358.96 471.21V477.44M358.96 509.60V524.17M363.10 487.29V509.10M363.10 510.10V519.15M367.25 495.33V510.10M367.25 561.36V561.86M371.39 558.34V561.21M371.39 603.42V637.39M379.68 588.64V593.97M379.68 611.26V620.80M408.69 484.97V492.21M408.69 535.43V548.29M412.83 521.66V535.73M412.83 562.36V562.86M425.26 512.61V515.83M425.26 575.28V575.88M429.41 564.52V575.28M429.41 580.60V590.65M433.55 566.03V580.60M433.55 582.61V585.93M441.84 574.07V576.58M441.84 579.30V594.67M454.27 528.19V539.75M454.27 542.76V551.81M458.41 537.09V542.61M458.41 590.85V610.75M462.56 581.01V591.06M462.56 602.31V602.91M474.99 579.30V582.81M474.99 584.32V590.55M479.13 572.26V584.82M479.13 595.58V599.60M487.42 590.35V591.26M487.42 593.57V596.08M508.14 522.01V532.36M508.14 534.37V542.61M512.29 524.02V534.37M512.29 550.45V553.17M520.57 522.01V527.54M520.57 532.86V543.62M524.72 528.04V533.07M524.72 543.32V544.62M537.15 502.26V513.12M537.15 514.32V521.86M553.72 465.58V466.58M553.72 502.46V506.78M566.16 500.25V501.26M566.16 510.60V519.35M578.59 493.22V495.73M578.59 498.74V501.26M582.73 497.74V498.54M582.73 517.54V521.86M586.88 515.33V518.04M586.88 521.86V534.92M599.31 486.18V492.41M599.31 502.46V504.77M607.59 492.21V494.22M607.59 498.44V503.27M611.74 497.74V498.44M611.74 502.26V506.28M615.88 501.76V502.46M615.88 507.29V508.79M624.17 503.27V505.18M624.17 526.78V545.88M628.31 524.27V526.78M628.31 530.80V540.35M632.46 518.24V530.80M632.46 533.82V537.84M636.60 528.29V533.82M636.60 536.33V538.34M644.89 528.29V535.33M644.89 541.36V541.86M653.18 518.74V519.95M653.18 533.32V536.33M657.32 532.81V533.82M657.32 544.17V548.89M678.04 466.83V477.39M678.04 481.56V496.63M694.62 434.17V434.97M694.62 456.28V465.33M707.05 423.62V444.72M707.05 452.46V468.84M715.34 398.84V418.29M715.34 420.60V426.13M719.48 419.10V421.31M719.48 447.74V459.80M748.49 195.08V224.22M748.49 257.39V284.17M752.63 256.83V257.24M752.63 282.66V336.53M760.92 256.03V256.53M760.92 282.66V316.83M765.06 245.33V282.66M765.06 323.57V365.68M769.21 306.78V323.57M769.21 325.18V363.67M777.49 306.28V309.30M777.49 326.88V370.70M781.64 314.82V327.19M781.64 355.33V361.66M794.07 211.66V232.26M794.07 238.49V248.34M798.21 223.22V238.49M798.21 248.54V265.58M802.36 247.34V248.54M802.36 260.05V295.73M806.50 256.00V260.05M806.50 288.39V296.73M814.79 273.62V286.38M814.79 355.38V371.76M827.22 268.09V271.91M827.22 308.29V333.57M831.37 291.21V308.29M831.37 388.54V396.38M835.51 383.32V388.54M835.51 407.29V466.88M847.94 378.29V380.30M847.94 424.37V428.69M852.08 406.08V424.37M852.08 442.46V461.86M868.66 391.86V392.81M868.66 423.17V440.75M881.09 377.29V381.31M881.09 414.32V430.70M885.24 384.32V414.32M885.24 420.35V426.68M893.52 284.17V320.35M893.52 335.28V343.12M910.10 205.93V206.63M910.10 213.67V276.63M914.24 192.86V213.67M914.24 307.29V332.06M926.68 242.31V258.04M926.68 309.30V323.87M930.82 273.12V309.30M930.82 316.53V356.68M939.11 285.18V313.82M939.11 363.42V379.80M943.25 356.18V363.72M943.25 396.53V461.86M955.68 367.24V370.25M955.68 411.91V473.07M959.83 411.61V411.91M959.83 480.60V484.62M963.97 462.51V480.60M963.97 499.40V516.78M972.26 469.55V482.31M972.26 510.45V515.28M976.40 489.65V510.45M976.40 541.31V547.14M984.69 526.03V539.10M984.69 540.60V546.63M1001.27 381.31V412.91M1001.27 414.62V438.74M1009.55 374.27V407.29M1009.55 409.30V417.64M1013.70 390.35V409.30M1013.70 412.61V430.20M1021.98 385.98V408.09M1021.98 452.31V467.89M1046.85 215.83V225.38M1046.85 277.44V288.29M1063.42 98.14V100.15M1063.42 153.52V171.61M1067.57 140.35V153.52M1067.57 166.28V178.64M1075.86 115.23V124.77M1075.86 145.38V149.40M1080.00 145.38V146.88M1080.00 188.39V233.32M1088.29 102.96V137.34M1088.29 186.18V274.72M1092.43 167.59V186.38M1092.43 210.50V252.61M1100.72 173.62V186.38M1100.72 220.55V251.61M1104.86 219.85V220.55M1104.86 265.38V337.64M1109.01 255.13V265.38M1109.01 323.57V335.63" stroke="#ef5350" stroke-opacity="0.8" stroke-width="0.92" fill="none"/>
<path d="M5.30 707.11h2.85V710.65h-2.85zM9.45 706.50h2.85V707.20h-2.85zM13.59 703.12h2.85V707.34h-2.85zM21.88 696.18h2.85V704.47h-2.85zM30.17 681.48h2.85V697.46h-2.85zM34.31 679.45h2.85V681.63h-2.85zM38.46 676.21h2.85V679.60h-2.85zM46.74 671.31h2.85V677.49h-2.85zM50.89 665.28h2.85V671.46h-2.85zM55.03 624.32h2.85V665.13h-2.85zM59.18 586.33h2.85V624.32h-2.85zM67.46 566.53h2.85V589.15h-2.85zM75.75 536.48h2.85V577.89h-2.85zM79.89 510.15h2.85V536.48h-2.85zM84.04 492.06h2.85V510.65h-2.85zM92.33 520.40h2.85V563.52h-2.85zM96.47 503.92h2.85V521.21h-2.85zM108.90 472.86h2.85V526.73h-2.85zM113.05 462.31h2.85V472.86h-2.85zM117.19 450.25h2.85V462.51h-2.85zM121.33 439.20h2.85V450.25h-2.85zM125.48 352.06h2.85V439.20h-2.85zM129.62 217.39h2.85V351.76h-2.85zM142.05 430.25h2.85V469.65h-2.85zM146.20 385.83h2.85V430.25h-2.85zM162.77 439.30h2.85V485.43h-2.85zM175.20 457.09h2.85V498.49h-2.85zM179.35 407.14h2.85V456.58h-2.85zM183.49 343.42h2.85V406.63h-2.85zM187.64 303.02h2.85V343.42h-2.85zM200.07 214.52h2.85V314.12h-2.85zM216.64 287.54h2.85V337.24h-2.85zM224.93 229.05h2.85V288.34h-2.85zM229.07 196.43h2.85V228.84h-2.85zM233.22 168.29h2.85V196.43h-2.85zM237.36 123.42h2.85V168.29h-2.85zM241.51 121.71h2.85V123.42h-2.85zM249.79 166.58h2.85V171.61h-2.85zM266.37 198.54h2.85V217.84h-2.85zM278.80 297.54h2.85V324.97h-2.85zM287.09 400.40h2.85V408.74h-2.85zM291.23 337.74h2.85V400.40h-2.85zM316.10 364.42h2.85V412.26h-2.85zM320.24 304.72h2.85V364.22h-2.85zM324.38 273.57h2.85V304.72h-2.85zM374.11 593.97h2.85V603.42h-2.85zM382.40 598.19h2.85V611.26h-2.85zM386.54 574.57h2.85V597.99h-2.85zM390.69 538.54h2.85V574.37h-2.85zM394.83 527.39h2.85V538.54h-2.85zM398.97 524.67h2.85V527.39h-2.85zM403.12 492.21h2.85V524.67h-2.85zM415.55 541.46h2.85V562.36h-2.85zM419.69 515.83h2.85V541.46h-2.85zM436.27 576.58h2.85V582.61h-2.85zM444.56 571.06h2.85V579.30h-2.85zM448.70 540.25h2.85V570.85h-2.85zM465.28 594.57h2.85V602.31h-2.85zM469.42 582.51h2.85V594.57h-2.85zM481.85 591.26h2.85V595.58h-2.85zM490.14 581.51h2.85V593.57h-2.85zM494.28 544.62h2.85V581.31h-2.85zM498.43 534.37h2.85V544.62h-2.85zM502.57 532.56h2.85V534.07h-2.85zM515.00 527.54h2.85V550.45h-2.85zM527.44 540.10h2.85V543.32h-2.85zM531.58 513.12h2.85V539.60h-2.85zM539.87 511.51h2.85V514.32h-2.85zM544.01 502.46h2.85V511.51h-2.85zM548.16 466.58h2.85V502.46h-2.85zM556.44 501.26h2.85V502.46h-2.85zM560.59 501.01h2.85V501.71h-2.85zM568.87 510.10h2.85V510.90h-2.85zM573.02 495.73h2.85V510.30h-2.85zM589.59 497.24h2.85V521.86h-2.85zM593.74 492.41h2.85V497.04h-2.85zM602.03 494.22h2.85V502.46h-2.85zM618.60 505.28h2.85V507.29h-2.85zM639.32 535.13h2.85V536.33h-2.85zM647.61 520.25h2.85V541.36h-2.85zM660.04 529.80h2.85V544.17h-2.85zM664.18 511.71h2.85V529.30h-2.85zM668.33 498.64h2.85V511.41h-2.85zM672.47 477.39h2.85V498.44h-2.85zM680.76 475.18h2.85V481.56h-2.85zM684.90 457.29h2.85V474.87h-2.85zM689.05 434.97h2.85V456.78h-2.85zM697.34 446.73h2.85V456.78h-2.85zM701.48 444.72h2.85V446.43h-2.85zM709.77 418.59h2.85V452.46h-2.85zM722.20 444.22h2.85V447.74h-2.85zM726.34 413.57h2.85V443.42h-2.85zM730.49 361.66h2.85V413.07h-2.85zM734.63 329.40h2.85V361.66h-2.85zM738.77 278.34h2.85V329.90h-2.85zM742.92 224.22h2.85V278.14h-2.85zM755.35 256.53h2.85V282.66h-2.85zM771.93 309.80h2.85V324.87h-2.85zM784.36 336.53h2.85V355.33h-2.85zM788.50 232.26h2.85V335.83h-2.85zM809.22 286.38h2.85V288.39h-2.85zM817.51 312.11h2.85V355.38h-2.85zM821.65 271.91h2.85V311.51h-2.85zM838.23 399.25h2.85V407.29h-2.85zM842.37 380.30h2.85V398.84h-2.85zM854.80 439.75h2.85V442.46h-2.85zM858.95 403.27h2.85V439.75h-2.85zM863.09 392.81h2.85V403.27h-2.85zM871.38 419.35h2.85V423.17h-2.85zM875.52 381.31h2.85V418.94h-2.85zM887.96 320.35h2.85V420.35h-2.85zM896.24 295.43h2.85V335.28h-2.85zM900.39 247.54h2.85V295.43h-2.85zM904.53 206.63h2.85V247.54h-2.85zM916.96 297.44h2.85V307.29h-2.85zM921.11 258.04h2.85V297.44h-2.85zM933.54 314.32h2.85V316.53h-2.85zM945.97 392.21h2.85V396.53h-2.85zM950.11 370.25h2.85V392.01h-2.85zM966.69 482.61h2.85V499.40h-2.85zM979.12 539.10h2.85V541.31h-2.85zM987.41 512.46h2.85V540.60h-2.85zM991.55 509.25h2.85V512.46h-2.85zM995.70 412.91h2.85V509.25h-2.85zM1003.98 407.29h2.85V414.62h-2.85zM1016.42 408.09h2.85V412.61h-2.85zM1024.70 414.32h2.85V452.31h-2.85zM1028.85 404.87h2.85V414.32h-2.85zM1032.99 349.40h2.85V404.57h-2.85zM1037.14 241.56h2.85V349.20h-2.85zM1041.28 225.38h2.85V241.56h-2.85zM1049.57 173.32h2.85V277.44h-2.85zM1053.71 142.36h2.85V173.12h-2.85zM1057.85 100.15h2.85V142.36h-2.85zM1070.29 124.77h2.85V166.28h-2.85zM1082.72 137.34h2.85V188.39h-2.85zM1095.15 186.38h2.85V210.50h-2.85z" fill="#f8961f" stroke="#2b2118" stroke-width="0.68" stroke-linejoin="round"/>
<path d="M1.16 709.37h2.85V710.35h-2.85zM17.74 703.12h2.85V704.32h-2.85zM26.02 696.18h2.85V697.46h-2.85zM42.60 676.21h2.85V677.49h-2.85zM63.32 586.33h2.85V589.15h-2.85zM71.61 566.53h2.85V577.89h-2.85zM88.18 492.06h2.85V563.52h-2.85zM100.61 503.92h2.85V512.66h-2.85zM104.76 513.17h2.85V526.73h-2.85zM133.77 217.39h2.85V264.52h-2.85zM137.91 265.03h2.85V469.35h-2.85zM150.34 385.83h2.85V413.17h-2.85zM154.48 413.17h2.85V450.05h-2.85zM158.63 450.05h2.85V485.43h-2.85zM166.92 439.30h2.85V463.82h-2.85zM171.06 464.12h2.85V498.49h-2.85zM191.78 303.02h2.85V312.56h-2.85zM195.92 312.56h2.85V314.57h-2.85zM204.21 214.52h2.85V289.35h-2.85zM208.36 289.85h2.85V300.05h-2.85zM212.50 300.05h2.85V337.24h-2.85zM220.79 287.34h2.85V288.34h-2.85zM245.65 121.71h2.85V171.61h-2.85zM253.94 166.58h2.85V179.95h-2.85zM258.08 180.15h2.85V189.50h-2.85zM262.23 189.50h2.85V217.84h-2.85zM270.51 198.54h2.85V231.56h-2.85zM274.66 231.56h2.85V324.97h-2.85zM282.95 297.54h2.85V408.74h-2.85zM295.38 337.74h2.85V362.61h-2.85zM299.52 363.02h2.85V397.69h-2.85zM303.67 397.14h2.85V397.84h-2.85zM307.81 398.19h2.85V407.44h-2.85zM311.95 408.04h2.85V412.46h-2.85zM328.53 273.57h2.85V317.79h-2.85zM332.67 317.79h2.85V347.14h-2.85zM336.82 347.14h2.85V356.38h-2.85zM340.96 356.68h2.85V369.95h-2.85zM345.10 369.95h2.85V412.26h-2.85zM349.25 412.26h2.85V463.67h-2.85zM353.39 463.67h2.85V477.44h-2.85zM357.54 477.44h2.85V509.60h-2.85zM361.68 509.10h2.85V510.10h-2.85zM365.82 510.10h2.85V561.36h-2.85zM369.97 561.21h2.85V603.42h-2.85zM378.26 593.97h2.85V611.26h-2.85zM407.26 492.21h2.85V535.43h-2.85zM411.41 535.73h2.85V562.36h-2.85zM423.84 515.83h2.85V575.28h-2.85zM427.98 575.28h2.85V580.60h-2.85zM432.13 580.60h2.85V582.61h-2.85zM440.41 576.58h2.85V579.30h-2.85zM452.85 539.75h2.85V542.76h-2.85zM456.99 542.61h2.85V590.85h-2.85zM461.13 591.06h2.85V602.31h-2.85zM473.57 582.81h2.85V584.32h-2.85zM477.71 584.82h2.85V595.58h-2.85zM486.00 591.26h2.85V593.57h-2.85zM506.72 532.36h2.85V534.37h-2.85zM510.86 534.37h2.85V550.45h-2.85zM519.15 527.54h2.85V532.86h-2.85zM523.29 533.07h2.85V543.32h-2.85zM535.72 513.12h2.85V514.32h-2.85zM552.30 466.58h2.85V502.46h-2.85zM564.73 501.26h2.85V510.60h-2.85zM577.16 495.73h2.85V498.74h-2.85zM581.31 498.54h2.85V517.54h-2.85zM585.45 518.04h2.85V521.86h-2.85zM597.88 492.41h2.85V502.46h-2.85zM606.17 494.22h2.85V498.44h-2.85zM610.31 498.44h2.85V502.26h-2.85zM614.46 502.46h2.85V507.29h-2.85zM622.75 505.18h2.85V526.78h-2.85zM626.89 526.78h2.85V530.80h-2.85zM631.03 530.80h2.85V533.82h-2.85zM635.18 533.82h2.85V536.33h-2.85zM643.46 535.33h2.85V541.36h-2.85zM651.75 519.95h2.85V533.32h-2.85zM655.90 533.82h2.85V544.17h-2.85zM676.62 477.39h2.85V481.56h-2.85zM693.19 434.97h2.85V456.28h-2.85zM705.62 444.72h2.85V452.46h-2.85zM713.91 418.29h2.85V420.60h-2.85zM718.06 421.31h2.85V447.74h-2.85zM747.06 224.22h2.85V257.39h-2.85zM751.21 257.24h2.85V282.66h-2.85zM759.49 256.53h2.85V282.66h-2.85zM763.64 282.66h2.85V323.57h-2.85zM767.78 323.57h2.85V325.18h-2.85zM776.07 309.30h2.85V326.88h-2.85zM780.21 327.19h2.85V355.33h-2.85zM792.65 232.26h2.85V238.49h-2.85zM796.79 238.49h2.85V248.54h-2.85zM800.93 248.54h2.85V260.05h-2.85zM805.08 260.05h2.85V288.39h-2.85zM813.36 286.38h2.85V355.38h-2.85zM825.80 271.91h2.85V308.29h-2.85zM829.94 308.29h2.85V388.54h-2.85zM834.08 388.54h2.85V407.29h-2.85zM846.52 380.30h2.85V424.37h-2.85zM850.66 424.37h2.85V442.46h-2.85zM867.24 392.81h2.85V423.17h-2.85zM879.67 381.31h2.85V414.32h-2.85zM883.81 414.32h2.85V420.35h-2.85zM892.10 320.35h2.85V335.28h-2.85zM908.67 206.63h2.85V213.67h-2.85zM912.82 213.67h2.85V307.29h-2.85zM925.25 258.04h2.85V309.30h-2.85zM929.39 309.30h2.85V316.53h-2.85zM937.68 313.82h2.85V363.42h-2.85zM941.83 363.72h2.85V396.53h-2.85zM954.26 370.25h2.85V411.91h-2.85zM958.40 411.91h2.85V480.60h-2.85zM962.55 480.60h2.85V499.40h-2.85zM970.83 482.31h2.85V510.45h-2.85zM974.98 510.45h2.85V541.31h-2.85zM983.26 539.10h2.85V540.60h-2.85zM999.84 412.91h2.85V414.62h-2.85zM1008.13 407.29h2.85V409.30h-2.85zM1012.27 409.30h2.85V412.61h-2.85zM1020.56 408.09h2.85V452.31h-2.85zM1045.42 225.38h2.85V277.44h-2.85zM1062.00 100.15h2.85V153.52h-2.85zM1066.14 153.52h2.85V166.28h-2.85zM1074.43 124.77h2.85V145.38h-2.85zM1078.57 146.88h2.85V188.39h-2.85zM1086.86 137.34h2.85V186.18h-2.85zM1091.01 186.38h2.85V210.50h-2.85zM1099.29 186.38h2.85V220.55h-2.85zM1103.44 220.55h2.85V265.38h-2.85zM1107.58 265.38h2.85V323.57h-2.85z" fill="#131722" fill-opacity="0.5" stroke="#1b1d24" stroke-width="0.7" stroke-linejoin="round"/>
<path d="M-4 323.7H1152.7" stroke="#8a8d96" stroke-width="0.8" stroke-dasharray="0.8 1.3" fill="none"/>
<rect x="1152.7" y="-4" width="52" height="804" fill="#fff"/>
<rect x="-4" y="778.7" width="1208" height="21.299999999999955" fill="#fff"/>
<text x="1158.8" y="761.10" font-size="10.0" fill="#2a2e39" text-anchor="start" font-weight="normal" textLength="17.85" lengthAdjust="spacingAndGlyphs">0.00</text>
<text x="1158.8" y="733.55" font-size="10.0" fill="#2a2e39" text-anchor="start" font-weight="normal" textLength="28.05" lengthAdjust="spacingAndGlyphs">200.00</text>
<text x="1158.8" y="706.00" font-size="10.0" fill="#2a2e39" text-anchor="start" font-weight="normal" textLength="28.05" lengthAdjust="spacingAndGlyphs">400.00</text>
<text x="1158.8" y="678.46" font-size="10.0" fill="#2a2e39" text-anchor="start" font-weight="normal" textLength="28.05" lengthAdjust="spacingAndGlyphs">600.00</text>
<text x="1158.8" y="650.91" font-size="10.0" fill="#2a2e39" text-anchor="start" font-weight="normal" textLength="28.05" lengthAdjust="spacingAndGlyphs">800.00</text>
<text x="1158.8" y="623.36" font-size="10.0" fill="#2a2e39" text-anchor="start" font-weight="normal" textLength="35.70" lengthAdjust="spacingAndGlyphs">1,000.00</text>
<text x="1158.8" y="595.81" font-size="10.0" fill="#2a2e39" text-anchor="start" font-weight="normal" textLength="35.70" lengthAdjust="spacingAndGlyphs">1,200.00</text>
<text x="1158.8" y="568.26" font-size="10.0" fill="#2a2e39" text-anchor="start" font-weight="normal" textLength="35.70" lengthAdjust="spacingAndGlyphs">1,400.00</text>
<text x="1158.8" y="540.72" font-size="10.0" fill="#2a2e39" text-anchor="start" font-weight="normal" textLength="35.70" lengthAdjust="spacingAndGlyphs">1,600.00</text>
<text x="1158.8" y="513.17" font-size="10.0" fill="#2a2e39" text-anchor="start" font-weight="normal" textLength="35.70" lengthAdjust="spacingAndGlyphs">1,800.00</text>
<text x="1158.8" y="485.62" font-size="10.0" fill="#2a2e39" text-anchor="start" font-weight="normal" textLength="35.70" lengthAdjust="spacingAndGlyphs">2,000.00</text>
<text x="1158.8" y="458.07" font-size="10.0" fill="#2a2e39" text-anchor="start" font-weight="normal" textLength="35.70" lengthAdjust="spacingAndGlyphs">2,200.00</text>
<text x="1158.8" y="430.52" font-size="10.0" fill="#2a2e39" text-anchor="start" font-weight="normal" textLength="35.70" lengthAdjust="spacingAndGlyphs">2,400.00</text>
<text x="1158.8" y="402.98" font-size="10.0" fill="#2a2e39" text-anchor="start" font-weight="normal" textLength="35.70" lengthAdjust="spacingAndGlyphs">2,600.00</text>
<text x="1158.8" y="375.43" font-size="10.0" fill="#2a2e39" text-anchor="start" font-weight="normal" textLength="35.70" lengthAdjust="spacingAndGlyphs">2,800.00</text>
<text x="1158.8" y="347.88" font-size="10.0" fill="#2a2e39" text-anchor="start" font-weight="normal" textLength="35.70" lengthAdjust="spacingAndGlyphs">3,000.00</text>
<text x="1158.8" y="320.33" font-size="10.0" fill="#2a2e39" text-anchor="start" font-weight="normal" textLength="35.70" lengthAdjust="spacingAndGlyphs">3,200.00</text>
<text x="1158.8" y="292.78" font-size="10.0" fill="#2a2e39" text-anchor="start" font-weight="normal" textLength="35.70" lengthAdjust="spacingAndGlyphs">3,400.00</text>
<text x="1158.8" y="265.24" font-size="10.0" fill="#2a2e39" text-anchor="start" font-weight="normal" textLength="35.70" lengthAdjust="spacingAndGlyphs">3,600.00</text>
<text x="1158.8" y="237.69" font-size="10.0" fill="#2a2e39" text-anchor="start" font-weight="normal" textLength="35.70" lengthAdjust="spacingAndGlyphs">3,800.00</text>
<text x="1158.8" y="210.14" font-size="10.0" fill="#2a2e39" text-anchor="start" font-weight="normal" textLength="35.70" lengthAdjust="spacingAndGlyphs">4,000.00</text>
<text x="1158.8" y="182.59" font-size="10.0" fill="#2a2e39" text-anchor="start" font-weight="normal" textLength="35.70" lengthAdjust="spacingAndGlyphs">4,200.00</text>
<text x="1158.8" y="155.04" font-size="10.0" fill="#2a2e39" text-anchor="start" font-weight="normal" textLength="35.70" lengthAdjust="spacingAndGlyphs">4,400.00</text>
<text x="1158.8" y="127.50" font-size="10.0" fill="#2a2e39" text-anchor="start" font-weight="normal" textLength="35.70" lengthAdjust="spacingAndGlyphs">4,600.00</text>
<text x="1158.8" y="99.95" font-size="10.0" fill="#2a2e39" text-anchor="start" font-weight="normal" textLength="35.70" lengthAdjust="spacingAndGlyphs">4,800.00</text>
<text x="1158.8" y="72.40" font-size="10.0" fill="#2a2e39" text-anchor="start" font-weight="normal" textLength="35.70" lengthAdjust="spacingAndGlyphs">5,000.00</text>
<text x="1158.8" y="44.85" font-size="10.0" fill="#2a2e39" text-anchor="start" font-weight="normal" textLength="35.70" lengthAdjust="spacingAndGlyphs">5,200.00</text>
<path d="M1153.1 192.80H1196.8000000000002a1.6 1.6 0 0 1 1.6 1.6V202.80a1.6 1.6 0 0 1 -1.6 1.6H1153.1z" fill="#4caf50"/>
<text x="1158.8" y="201.10" font-size="10.0" fill="#fff" text-anchor="start" font-weight="normal" textLength="35.70" lengthAdjust="spacingAndGlyphs">4,065.75</text>
<path d="M1153.1 235.60H1196.8000000000002a1.6 1.6 0 0 1 1.6 1.6V245.60a1.6 1.6 0 0 1 -1.6 1.6H1153.1z" fill="#f2594e"/>
<text x="1158.8" y="243.90" font-size="10.0" fill="#fff" text-anchor="start" font-weight="normal" textLength="35.70" lengthAdjust="spacingAndGlyphs">3,757.95</text>
<path d="M1153.1 279.80H1196.8000000000002a1.6 1.6 0 0 1 1.6 1.6V289.80a1.6 1.6 0 0 1 -1.6 1.6H1153.1z" fill="#4a5df5"/>
<text x="1158.8" y="288.10" font-size="10.0" fill="#fff" text-anchor="start" font-weight="normal" textLength="35.70" lengthAdjust="spacingAndGlyphs">3,434.36</text>
<path d="M1153.1 318.10H1196.8000000000002a1.6 1.6 0 0 1 1.6 1.6V337.80a1.6 1.6 0 0 1 -1.6 1.6H1153.1z" fill="#2a2e39"/>
<text x="1158.8" y="326.30" font-size="10.0" fill="#d6d8de" text-anchor="start" font-weight="normal" textLength="35.70" lengthAdjust="spacingAndGlyphs">3,158.14</text>
<text x="1158.8" y="335.9" font-size="10.0" fill="#c4c6cd" text-anchor="start" font-weight="normal" textLength="28.05" lengthAdjust="spacingAndGlyphs">1d 23h</text>
<path d="M1153.1 339.30H1196.8000000000002a1.6 1.6 0 0 1 1.6 1.6V349.30a1.6 1.6 0 0 1 -1.6 1.6H1153.1z" fill="#9c27b0"/>
<text x="1158.8" y="347.60" font-size="10.0" fill="#fff" text-anchor="start" font-weight="normal" textLength="35.70" lengthAdjust="spacingAndGlyphs">3,138.96</text>
<path d="M1153.1 350.90H1196.8000000000002a1.6 1.6 0 0 1 1.6 1.6V361.00a1.6 1.6 0 0 1 -1.6 1.6H1153.1z" fill="#ef8a30"/>
<text x="1158.8" y="359.25" font-size="10.0" fill="#fff" text-anchor="start" font-weight="normal" textLength="35.70" lengthAdjust="spacingAndGlyphs">3,055.64</text>
<path d="M1153.1 749.00H1195.8000000000002a1.6 1.6 0 0 1 1.6 1.6V759.20a1.6 1.6 0 0 1 -1.6 1.6H1153.1z" fill="#ee5f4f"/>
<text x="1158.8" y="757.40" font-size="10.0" fill="#fff" text-anchor="start" font-weight="normal" textLength="0.00" lengthAdjust="spacingAndGlyphs"></text>
<text x="1158.8" y="757.8" font-size="10.0" fill="#fff" text-anchor="start" font-weight="normal" textLength="34.6" lengthAdjust="spacingAndGlyphs">784.95 K</text>
<rect x="1137.9" y="637" width="53.2" height="14.6" rx="1.8" fill="#131722"/>
<path d="M1152.3 637V651.6" stroke="#fff" stroke-width="0.9"/>
<circle cx="1145.05" cy="644.25" r="5.2" fill="none" stroke="#d7d8dc" stroke-width="0.9"/>
<path d="M1142.45 644.25h5.2M1145.05 641.65v5.2" stroke="#e6e6ea" stroke-width="1" fill="none"/>
<text x="1159.0" y="647.4" font-size="10.0" fill="#dcdde2" text-anchor="start" font-weight="normal" textLength="28.05" lengthAdjust="spacingAndGlyphs">832.67</text>
<text x="60.20" y="792.3" font-size="9.3" fill="#2a2e39" text-anchor="middle" font-weight="bold" textLength="21.2" lengthAdjust="spacingAndGlyphs">2021</text>
<text x="167.94" y="792.2" font-size="8.7" fill="#2a2e39" text-anchor="middle" font-weight="normal" >7月</text>
<text x="275.68" y="792.3" font-size="9.3" fill="#2a2e39" text-anchor="middle" font-weight="bold" textLength="21.2" lengthAdjust="spacingAndGlyphs">2022</text>
<text x="383.42" y="792.2" font-size="8.7" fill="#2a2e39" text-anchor="middle" font-weight="normal" >7月</text>
<text x="491.17" y="792.3" font-size="9.3" fill="#2a2e39" text-anchor="middle" font-weight="bold" textLength="21.2" lengthAdjust="spacingAndGlyphs">2023</text>
<text x="598.91" y="792.2" font-size="8.7" fill="#2a2e39" text-anchor="middle" font-weight="normal" >7月</text>
<text x="706.65" y="792.3" font-size="9.3" fill="#2a2e39" text-anchor="middle" font-weight="bold" textLength="21.2" lengthAdjust="spacingAndGlyphs">2024</text>
<text x="814.39" y="792.2" font-size="8.7" fill="#2a2e39" text-anchor="middle" font-weight="normal" >7月</text>
<text x="926.28" y="792.3" font-size="9.3" fill="#2a2e39" text-anchor="middle" font-weight="bold" textLength="21.2" lengthAdjust="spacingAndGlyphs">2025</text>
<text x="1034.02" y="792.2" font-size="8.7" fill="#2a2e39" text-anchor="middle" font-weight="normal" >7月</text>
<text x="1141.76" y="792.3" font-size="9.3" fill="#2a2e39" text-anchor="middle" font-weight="bold" textLength="21.2" lengthAdjust="spacingAndGlyphs">2026</text>
<path d="M1066 780.2a1.5 1.5 0 0 1 1.5 -1.5h75.7a1.5 1.5 0 0 1 1.5 1.5V801H1066z" fill="#131722"/>
<text x="1105.5" y="791.7" font-size="9.4" fill="#d4d6dc" text-anchor="middle" font-weight="bold" textLength="66.3" lengthAdjust="spacingAndGlyphs">2025-11-03 (月)</text>
<path d="M1172.4 788.7l2.55 -4.4h5.1l2.55 4.4l-2.55 4.4h-5.1z" fill="none" stroke="#2a2e39" stroke-width="1" stroke-linejoin="round"/>
<circle cx="1177.5" cy="788.7" r="1.6" fill="none" stroke="#2a2e39" stroke-width="0.9"/>
<rect x="5.5" y="756.3" width="23" height="15" rx="3" fill="#fff"/>
<path d="M7.2 758.6h8.3v10.4h-4.2v-6.3h-4.1z" fill="#0a0a0a"/>
<circle cx="18.1" cy="760.5" r="1.95" fill="#0a0a0a"/>
<path d="M22.2 758.6h4.6l-4.3 10.4h-4.6z" fill="#0a0a0a"/>
<circle cx="1109.2" cy="769.8" r="7.0" fill="#fff" stroke="#a63cc0" stroke-width="0.9"/>
<circle cx="1112.9" cy="769.8" r="7.3" fill="#fff" stroke="#ef5350" stroke-width="0.9"/>
<clipPath id="fl"><circle cx="1112.9" cy="769.8" r="5.3"/></clipPath>
<g clip-path="url(#fl)"><rect x="1107" y="764" width="12" height="12" fill="#fff"/><rect x="1107" y="764.6" width="12" height="1.7" fill="#ef5350"/><rect x="1107" y="768.1" width="12" height="1.7" fill="#ef5350"/><rect x="1107" y="771.8" width="12" height="2.0" fill="#ef5350"/><rect x="1107" y="764" width="6.4" height="6.2" fill="#5b9bf0"/></g>
<rect x="771.6" y="38.2" width="43.4" height="26.3" rx="4" fill="#000" opacity="0.10"/>
<rect x="772" y="37.3" width="42.6" height="26" rx="3.6" fill="#1f1f1f"/>
<rect x="777.25" y="46.25" width="1.5" height="1.5" fill="#5a5a5a"/>
<rect x="777.25" y="49.75" width="1.5" height="1.5" fill="#5a5a5a"/>
<rect x="777.25" y="53.25" width="1.5" height="1.5" fill="#5a5a5a"/>
<rect x="781.35" y="46.25" width="1.5" height="1.5" fill="#5a5a5a"/>
<rect x="781.35" y="49.75" width="1.5" height="1.5" fill="#5a5a5a"/>
<rect x="781.35" y="53.25" width="1.5" height="1.5" fill="#5a5a5a"/>
<path d="M793.5 56.5L797.7 50.8C798.9 49.2 801.9 49.0 803.0 50.7C804.0 52.6 803.0 54.9 800.7 55.9C799.0 56.5 796.0 56.5 793.5 56.5z" fill="none" stroke="#cfcfcf" stroke-width="0.85" stroke-linejoin="round"/>
<path d="M803.6 45.5C802.6 46.8 803.4 49.3 805.7 49.5C807.0 49.5 808.2 48.0 810.8 45.3" fill="none" stroke="#cfcfcf" stroke-width="0.85" stroke-linecap="round"/>
<rect x="1114.3" y="1.3" width="15.3" height="15.4" rx="2.5" fill="#fff" stroke="#eef0f3" stroke-width="0.8"/>
<path d="M1122 6.3v6.3M1119.4 10.2l2.6 2.6l2.6 -2.6" fill="none" stroke="#2a2e39" stroke-width="0.9" stroke-linecap="round" stroke-linejoin="round"/>
<rect x="1133.2" y="1.1" width="16.4" height="16" rx="3" fill="#2a2a2a"/>
<path d="M1137.6 8.2v-0.8a1.8 1.8 0 0 1 1.8 -1.8h4a1.8 1.8 0 0 1 1.8 1.8v0.8M1137.6 10.6v0.8a1.8 1.8 0 0 0 1.8 1.8h4a1.8 1.8 0 0 0 1.8 -1.8v-0.8" fill="none" stroke="#e6e6e6" stroke-width="0.95" stroke-linecap="round"/>
<rect x="1155.6" y="1.3" width="42.9" height="16.6" rx="2.5" fill="#fff" stroke="#eef0f3" stroke-width="0.8"/>
<text x="1157.9" y="12.5" font-size="9.2" fill="#2a2e39" text-anchor="start" font-weight="normal" textLength="17.1" lengthAdjust="spacingAndGlyphs">USD</text>
<path d="M1192.6 9.2l1.7 1.7l1.7 -1.7" fill="none" stroke="#2a2e39" stroke-width="1" stroke-linecap="round" stroke-linejoin="round"/>
<circle cx="11.25" cy="9.4" r="6.4" fill="#4a4b8f"/>
<path d="M11.25 4.6l3 4.9l-3 1.8l-3 -1.8z" fill="#fff" opacity="0.9"/><path d="M11.25 12.1l3 -1.9l-3 4.2l-3 -4.2z" fill="#fff" opacity="0.75"/>
<text x="20.6" y="13.4" font-size="11.2" fill="#2a2e39" text-anchor="start" font-weight="normal" textLength="188.5" lengthAdjust="spacingAndGlyphs">イーサリアム／米ドル · 1週 · Coinbase</text>
<circle cx="221.1" cy="9.6" r="5.9" fill="#dcf1ec"/><circle cx="221.1" cy="9.6" r="2.6" fill="#2f9e85"/>
<text x="233.2" y="12.7" font-size="8.7" fill="#50535e" text-anchor="start" font-weight="normal" textLength="18.1" lengthAdjust="spacingAndGlyphs">始値</text>
<text x="251.9" y="13.0" font-size="9.6" fill="#2a2e39" text-anchor="start" font-weight="normal" textLength="37.5" lengthAdjust="spacingAndGlyphs">3,906.01</text>
<text x="295.0" y="12.7" font-size="8.7" fill="#50535e" text-anchor="start" font-weight="normal" textLength="18.2" lengthAdjust="spacingAndGlyphs">高値</text>
<text x="313.8" y="13.0" font-size="9.6" fill="#2a2e39" text-anchor="start" font-weight="normal" textLength="37.8" lengthAdjust="spacingAndGlyphs">3,914.06</text>
<text x="356.8" y="12.7" font-size="8.7" fill="#50535e" text-anchor="start" font-weight="normal" textLength="18.2" lengthAdjust="spacingAndGlyphs">安値</text>
<text x="375.6" y="13.0" font-size="9.6" fill="#2a2e39" text-anchor="start" font-weight="normal" textLength="37.7" lengthAdjust="spacingAndGlyphs">3,055.00</text>
<text x="418.4" y="12.7" font-size="8.7" fill="#50535e" text-anchor="start" font-weight="normal" textLength="18.2" lengthAdjust="spacingAndGlyphs">終値</text>
<text x="437.20000000000005" y="13.0" font-size="9.6" fill="#2a2e39" text-anchor="start" font-weight="normal" textLength="37.8" lengthAdjust="spacingAndGlyphs">3,582.92</text>
<text x="480.0" y="13.0" font-size="9.6" fill="#2a2e39" text-anchor="start" font-weight="normal" textLength="77.6" lengthAdjust="spacingAndGlyphs">−323.05 (−8.27%)</text>
<rect x="4.3" y="21.4" width="53.1" height="23.1" rx="3.6" fill="#fff" stroke="#f27c79" stroke-width="0.9"/>
<text x="30.85" y="31.3" font-size="9.8" fill="#ef5350" text-anchor="middle" font-weight="normal" stroke="#ef5350" stroke-width="0.35" textLength="37.6" lengthAdjust="spacingAndGlyphs">3,158.13</text>
<text x="30.6" y="41.3" font-size="8.0" fill="#ef5350" text-anchor="middle" font-weight="normal" >売り</text>
<text x="70.4" y="36.4" font-size="7.8" fill="#4a4d57" text-anchor="middle" font-weight="normal" >0.01</text>
<rect x="84.3" y="21.4" width="53.3" height="23.1" rx="3.6" fill="#fff" stroke="#6675fa" stroke-width="0.9"/>
<text x="110.9" y="31.3" font-size="9.8" fill="#4a5df5" text-anchor="middle" font-weight="normal" stroke="#4a5df5" stroke-width="0.35" textLength="37.6" lengthAdjust="spacingAndGlyphs">3,158.14</text>
<text x="110.9" y="41.3" font-size="8.0" fill="#4a5df5" text-anchor="middle" font-weight="normal" >買い</text>
<text x="5.0" y="58.6" font-size="9.4" fill="#2a2e39" text-anchor="start" font-weight="normal" textLength="51.8" lengthAdjust="spacingAndGlyphs">出来高 · ETH</text>
<text x="63.3" y="58.6" font-size="9.6" fill="#f0706c" text-anchor="start" font-weight="normal" textLength="27.2" lengthAdjust="spacingAndGlyphs">1.22 M</text>
<text x="5.0" y="76.3" font-size="9.6" fill="#2a2e39" text-anchor="start" font-weight="normal" textLength="19.2" lengthAdjust="spacingAndGlyphs">SMA</text>
<text x="30.3" y="76.3" font-size="9.6" fill="#f2716c" text-anchor="start" font-weight="normal" textLength="37.9" lengthAdjust="spacingAndGlyphs">3,957.56</text>
<text x="73.2" y="76.3" font-size="9.6" fill="#6dbb70" text-anchor="start" font-weight="normal" textLength="37.9" lengthAdjust="spacingAndGlyphs">4,180.50</text>
<text x="116.5" y="76.3" font-size="9.6" fill="#6a7bf8" text-anchor="start" font-weight="normal" textLength="37.9" lengthAdjust="spacingAndGlyphs">3,382.00</text>
<text x="159.4" y="76.3" font-size="9.6" fill="#b457c4" text-anchor="start" font-weight="normal" textLength="37.9" lengthAdjust="spacingAndGlyphs">3,150.00</text>
<text x="202.5" y="76.3" font-size="9.6" fill="#f3a05a" text-anchor="start" font-weight="normal" textLength="37.9" lengthAdjust="spacingAndGlyphs">3,046.00</text>
<rect x="4.7" y="83.4" width="18.6" height="13.7" rx="2" fill="#fff" stroke="#e4e6ea" stroke-width="0.8"/>
<path d="M11.2 91.4l2.8 -2.4l2.8 2.4" fill="none" stroke="#2a2e39" stroke-width="1.1" stroke-linecap="round" stroke-linejoin="round"/>
</svg>
</body></html>
